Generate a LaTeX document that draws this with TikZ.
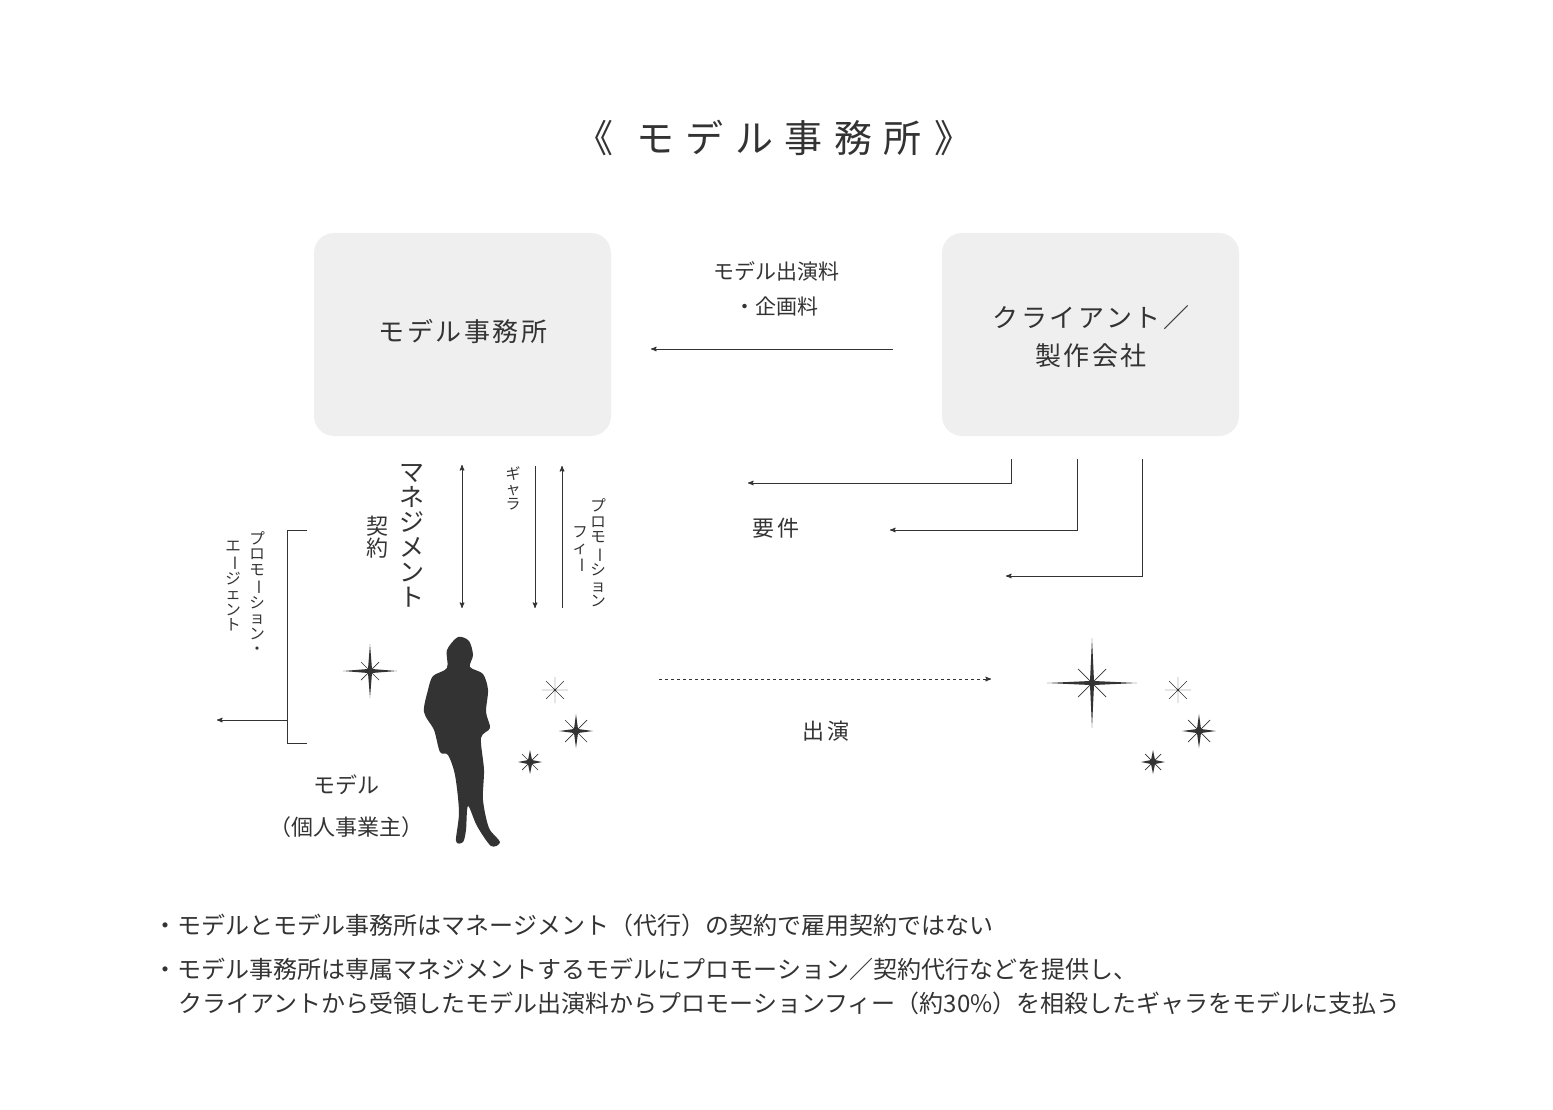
\documentclass[tikz,border=0pt]{standalone}
\usepackage{fontspec}
\setmainfont{Noto Sans CJK JP}
\usetikzlibrary{arrows}
\definecolor{ink}{HTML}{333333}
\definecolor{boxgray}{HTML}{EFEFEF}
\newcommand{\fsz}[1]{\fontsize{#1}{#1}\selectfont}
\newcommand{\vbar}{\rotatebox[origin=c]{-90}{ー}}
\begin{document}
\begin{tikzpicture}[
      x=1pt, y=-1pt,
      > = stealth',
      semithick,
      every node/.style={text=ink},
      box/.style={fill=boxgray, rounded corners=20pt},
      line/.style={draw=ink, line width=1pt},
      vcol/.style={align=center, inner sep=0pt},
      star/.style={fill=ink, draw=none}]
  \useasboundingbox (0,0) rectangle (1553,1110);

  \node[font=\fsz{38}] (tl) at (594,138) {《};
  \node[font={\fsz{38}\addfontfeature{LetterSpace=30}}] (title) at (779,138) {モデル事務所};
  \node[font=\fsz{38}] (tr) at (953,138) {》};

  % boxes
  \fill[box] (314,233) rectangle (611,436);
  \fill[box] (942,233) rectangle (1239,436);
  \node[font={\fsz{26}\addfontfeature{LetterSpace=10}}] (agency) at (463,332) {モデル事務所};
  \node[align=center, font={\fsz{26}\addfontfeature{LetterSpace=10}}] (client) at (1091,337) {クライアント／\\[12pt]製作会社};

  % fee
  \coordinate (feeA) at (893,349);
  \coordinate (feeB) at (651,349);
  \draw[line,->] (feeA) -- (feeB);
  \node[align=center, font=\fsz{21}] (fee) at (776,289) {モデル出演料\\[14pt]・企画料};

  % requirements
  \coordinate (r1) at (1011,459);
  \coordinate (r1e) at (748,483);
  \coordinate (r2) at (1077,459);
  \coordinate (r2e) at (890,530);
  \coordinate (r3) at (1142,459);
  \coordinate (r3e) at (1006,576);
  \draw[line,->] (r1) |- (r1e);
  \draw[line,->] (r2) |- (r2e);
  \draw[line,->] (r3) |- (r3e);
  \node[font=\fsz{22}] (req) at (776,528) {要\,件};

  % management contract
  \node[vcol, font=\fsz{25}] (mgmt) at (412,536) {マ\\ネ\\ジ\\メ\\ン\\ト};
  \node[vcol, font=\fsz{22}] (keiyaku) at (377,537) {契\\約};
  \coordinate (m1) at (462,465);
  \coordinate (m2) at (462,608);
  \draw[line,<->] (m1) -- (m2);
  \node[vcol, font=\fsz{15}] (gara) at (513,488) {ギ\\ャ\\ラ};
  \coordinate (g1) at (535,466);
  \coordinate (g2) at (535,608);
  \draw[line,->] (g1) -- (g2);
  \coordinate (p1) at (562,608);
  \coordinate (p2) at (562,466);
  \draw[line,->] (p1) -- (p2);
  \node[vcol, font=\fsz{15.5}] (pf1) at (598,553) {プ\\ロ\\モ\\\vbar\\シ\\ョ\\ン};
  \node[vcol, font=\fsz{15.5}] (pf2) at (580,550) {フ\\ィ\\\vbar};

  % promotion agent
  \coordinate (b1) at (307,530);
  \coordinate (b2) at (287,530);
  \coordinate (b3) at (287,743);
  \coordinate (b4) at (307,743);
  \draw[line, line width=0.8pt] (b1) -- (b2) -- (b3) -- (b4);
  \coordinate (pa1) at (287,720);
  \coordinate (pa2) at (217,720);
  \draw[line,->] (pa1) -- (pa2);
  \node[vcol, font=\fsz{15.5}] (pa) at (257,593) {プ\\ロ\\モ\\\vbar\\シ\\ョ\\ン\\・};
  \node[vcol, font=\fsz{15.5}] (pb) at (233,586) {エ\\\vbar\\ジ\\ェ\\ン\\ト};

  % model
  \fill[ink] plot[smooth cycle, tension=0.5] coordinates {
    (458,637) (469,641) (473,655) (470,667) (483,674) (488,690) (486,712)
    (490,728) (481,738) (484,770) (483,800) (489,828) (500,842) (491,846)
    (477,826) (468,806) (466,830) (463,842) (456,841) (459,812) (455,775)
    (448,755) (440,752) (434,730) (424,712) (428,690) (433,676) (447,668) (447,650)};
  \node[font=\fsz{22}] (model) at (346,785) {モデル};
  \node[font=\fsz{22}] (kojin) at (346,827) {（個人事業主）};

  % sparkles
  \foreach \x/\y/\s/\d in {370/671/27/9, 576/731/17/11, 530/762/12/8,
                           1092/683/45/14, 1199/731/17/11, 1153/762/12/8} {
    \fill[star] (\x,\y-\s) -- (\x+2,\y-2) -- (\x+\s,\y) -- (\x+2,\y+2)
      -- (\x,\y+\s) -- (\x-2,\y+2) -- (\x-\s,\y) -- (\x-2,\y-2) -- cycle;
    \draw[ink, line width=0.7pt] (\x-\d,\y-\d) -- (\x+\d,\y+\d)
      (\x-\d,\y+\d) -- (\x+\d,\y-\d);
  }
  \foreach \x/\y in {555/690, 1178/690} {
    \draw[ink, line width=0.4pt] (\x,\y-13) -- (\x,\y+13) (\x-13,\y) -- (\x+13,\y)
      (\x-9,\y-9) -- (\x+9,\y+9) (\x-9,\y+9) -- (\x+9,\y-9);
  }

  % appearance
  \coordinate (s1) at (659,679);
  \coordinate (s2) at (991,679);
  \draw[line,dashed,->] (s1) -- (s2);
  \node[font=\fsz{22}] (shutsuen) at (826,731) {出\,演};

  % notes
  \node[anchor=west, font=\fsz{24}] (n1) at (150,925) {・モデルとモデル事務所はマネージメント（代行）の契約で雇用契約ではない};
  \node[anchor=west, font=\fsz{24}] (n2) at (150,969) {・モデル事務所は専属マネジメントするモデルにプロモーション／契約代行などを提供し、};
  \node[anchor=west, font=\fsz{24}] (n3) at (175,1003) {クライアントから受領したモデル出演料からプロモーションフィー（約30\%）を相殺したギャラをモデルに支払う};
\end{tikzpicture}
\end{document}
